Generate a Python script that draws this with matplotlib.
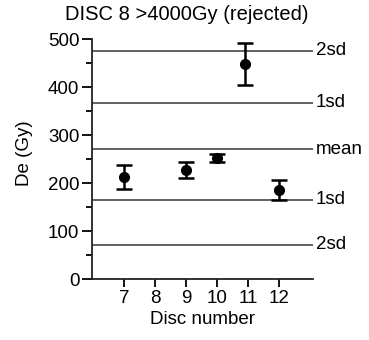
import matplotlib.pyplot as plt

plt.rcParams['font.family'] = ['Liberation Sans', 'DejaVu Sans']

# Datos
discos = [7, 9, 10, 10.9, 12]
de = [213, 227, 252, 448, 185]
error = [25, 16, 8, 43, 21]

lineas_valor = [476, 367, 271, 165, 72]
lineas_etiqueta = ['2sd', '1sd', 'mean', '1sd', '2sd']

fs = 13.5

fig = plt.figure(figsize=(3.69, 3.40), dpi=100)
ax = fig.add_axes([0.249, 0.179, 0.599, 0.706])

# Líneas horizontales de media y desviaciones
for v, lab in zip(lineas_valor, lineas_etiqueta):
    ax.axhline(v, color='#555555', lw=1.3, zorder=1)
    ax.text(13.2, v, lab, va='center', ha='left', fontsize=fs, clip_on=False)

ax.errorbar(discos, de, yerr=error, fmt='o', color='black', ms=7,
            elinewidth=1.8, capsize=6, capthick=1.8, zorder=3)

ax.set_xlim(5.95, 13.1)
ax.set_ylim(0, 500)
ax.set_xticks([7, 8, 9, 10, 11, 12])
ax.set_yticks([0, 100, 200, 300, 400, 500])
ax.set_yticks(range(50, 500, 100), minor=True)

for s in ['top', 'right']:
    ax.spines[s].set_visible(False)
for s in ['left', 'bottom']:
    ax.spines[s].set_linewidth(1.3)
    ax.spines[s].set_color('#222222')

ax.tick_params(axis='y', which='major', length=7, width=1.3, labelsize=fs, pad=2)
ax.tick_params(axis='y', which='minor', length=4, width=1.3)
ax.tick_params(axis='x', length=6, width=1.3, labelsize=fs, pad=2)

ax.set_xlabel('Disc number', fontsize=fs, labelpad=3)
ax.set_ylabel('De (Gy)', fontsize=fs)
ax.yaxis.set_label_coords(-0.265, 0.525)
fig.text(0.507, 0.957, 'DISC 8 >4000Gy (rejected)', ha='center', va='center', fontsize=14.5)

plt.savefig('out.png')
